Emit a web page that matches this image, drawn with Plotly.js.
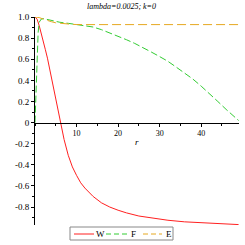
<!DOCTYPE html>
<html>
<head>
<meta charset="utf-8">
<script src="https://cdn.plot.ly/plotly-3.0.1.min.js"></script>
<style>html,body{margin:0;padding:0;background:#fff;}#plot{width:245px;height:245px;}</style>
</head>
<body>
<div id="plot"></div>
<script>
// Data
const rW = [0,0.5,1,1.5,2,2.5,3,4,5,6,7,8,9,10,11,12,14,16,18,20,22,25,28,32,36,40,44,49];
const W  = [1,0.98,0.92,0.85,0.77,0.69,0.61,0.41,0.21,0.01,-0.16,-0.31,-0.42,-0.5,-0.57,-0.62,-0.70,-0.76,-0.80,-0.83,-0.855,-0.885,-0.905,-0.925,-0.94,-0.95,-0.958,-0.966];
const rF = [0,0.25,0.5,0.75,1,1.5,2,3,4,6,8,10,12,14,16,18,20,22,24,26,28,30,32,34,36,38,40,42,44,46,48,49];
const F  = [0,0.3,0.62,0.85,0.95,0.98,0.985,0.975,0.965,0.95,0.94,0.93,0.92,0.905,0.88,0.85,0.815,0.785,0.75,0.712,0.668,0.625,0.58,0.525,0.47,0.412,0.345,0.275,0.2,0.125,0.05,0.02];
const rE = [0,1,2,3,4,5,6,7,8,9,10,12,49];
const E  = [1,0.995,0.98,0.965,0.955,0.945,0.94,0.935,0.932,0.93,0.929,0.928,0.928];
const seriesNames = ["W", "F", "E"];
const yTickVals = [-0.8,-0.6,-0.4,-0.2,0,0.2,0.4,0.6,0.8,1.0];
const yTickText = ["-0.8","-0.6","-0.4","-0.2","0","0.2","0.4","0.6","0.8","1.0"];
const xTickVals = [10,20,30,40];
const xTickText = ["10","20","30","40"];
const titleText = "lambda=0.0025; k=0";
const xLabel = "r";

const serif = "Liberation Serif, Times New Roman, serif";
const yMin = -0.97, yMax = 1.0;
const colors = ["#ff2020", "#33cc33", "#e6a820"];
const dashes = ["solid", "7px,3px", "9px,4px"];

// pixel -> paper helpers (plot area: x 35..239, y 17..225)
const M = {l: 35, r: 6, t: 17, b: 20};
const PW = 245 - M.l - M.r, PH = 245 - M.t - M.b;
const px = v => (v - M.l) / PW;
const py = v => (245 - M.b - v) / PH;

const traces = [
  {x: rW, y: W, name: seriesNames[0], mode: "lines", line: {color: colors[0], width: 1, dash: dashes[0]}},
  {x: rF, y: F, name: seriesNames[1], mode: "lines", line: {color: colors[1], width: 1, dash: dashes[1]}},
  {x: rE, y: E, name: seriesNames[2], mode: "lines", line: {color: colors[2], width: 1, dash: dashes[2]}}
];

// Manual legend (box, line samples, labels)
const legLines = [[74, 94], [106, 127], [143, 162]];
const legText = [100, 133, 168.5];
const shapes = [
  {type: "rect", xref: "paper", yref: "paper", x0: px(70), x1: px(173), y0: py(240), y1: py(227),
   line: {color: "#888", width: 1}, fillcolor: "rgba(0,0,0,0)"}
];
const annotations = [
  {text: "<i>" + titleText + "</i>", xref: "paper", yref: "paper", x: px(121.5), y: py(6.7),
   xanchor: "center", yanchor: "middle", showarrow: false, font: {family: serif, size: 8, color: "#000"}},
  {text: "<i>" + xLabel + "</i>", x: 24.6, y: -0.18, xref: "x", yref: "y", showarrow: false,
   font: {family: serif, size: 9, color: "#000"}}
];
seriesNames.forEach((n, i) => {
  shapes.push({type: "line", xref: "paper", yref: "paper", x0: px(legLines[i][0]), x1: px(legLines[i][1]),
               y0: py(234), y1: py(234), line: {color: colors[i], width: 1, dash: i === 0 ? "solid" : "5px,3px"}});
  annotations.push({text: n, xref: "paper", yref: "paper", x: px(legText[i]), y: py(233.5),
                    xanchor: "center", yanchor: "middle", showarrow: false,
                    font: {family: serif, size: 9, color: "#000"}});
});

const layout = {
  width: 245, height: 245,
  margin: M,
  paper_bgcolor: "#fff", plot_bgcolor: "#fff",
  showlegend: false,
  xaxis: {
    range: [0, 49.1], anchor: "free", position: (0 - yMin) / (yMax - yMin),
    showgrid: false, zeroline: false, showline: true, linecolor: "#000", linewidth: 1,
    tickvals: xTickVals, ticktext: xTickText, ticks: "outside", ticklen: 3, tickcolor: "#000",
    minor: {dtick: 5, ticks: "outside", ticklen: 2, tickcolor: "#000"},
    tickfont: {family: serif, size: 8, color: "#000"}
  },
  yaxis: {
    range: [yMin, yMax],
    showgrid: false, zeroline: false, showline: true, linecolor: "#000", linewidth: 1,
    tickvals: yTickVals, ticktext: yTickText, ticks: "outside", ticklen: 3, tickcolor: "#000",
    minor: {dtick: 0.1, ticks: "outside", ticklen: 2, tickcolor: "#000"},
    tickfont: {family: serif, size: 9, color: "#000"}
  },
  shapes: shapes,
  annotations: annotations
};

Plotly.newPlot("plot", traces, layout, {staticPlot: true, displayModeBar: false});
</script>
</body>
</html>
